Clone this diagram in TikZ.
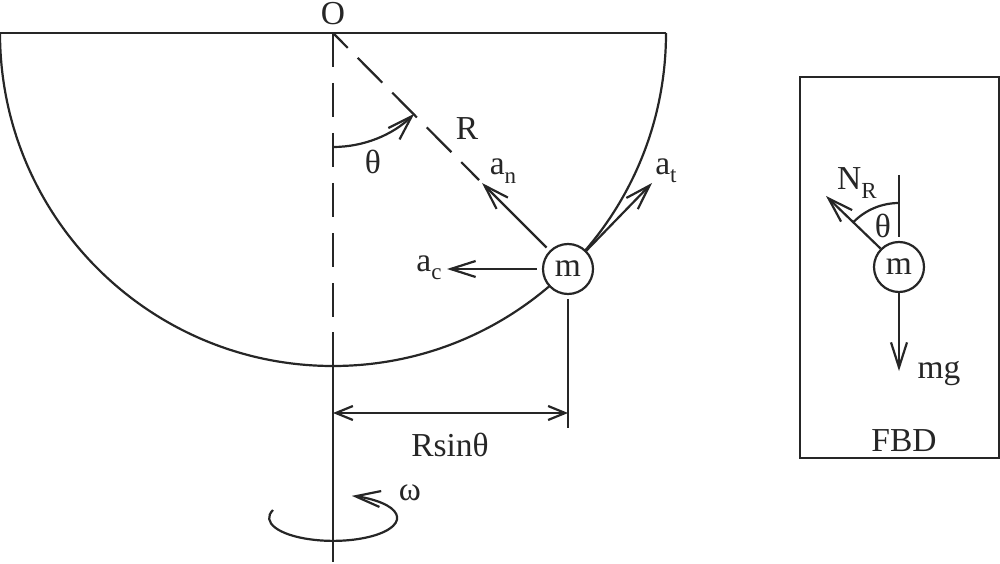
\documentclass[tikz,border=0pt]{standalone}
\usepackage{fontspec}
\setmainfont{Liberation Serif}
\usetikzlibrary{arrows.meta}

\definecolor{inkgray}{HTML}{262626}
\newcommand{\sub}[1]{\raisebox{-0.25em}{\fontsize{23}{23}\selectfont #1}}

\tikzset{
  outline/.style={
    draw=inkgray,
    line width=2.2pt,
  },
  force/.style={
    outline,
    -{Straight Barb[length=25pt,width=16pt,line width=2.2pt]},
  },
  dimline/.style={
    outline,
    {Straight Barb[length=17pt,width=14pt,line width=2.2pt]}-{Straight Barb[length=17pt,width=14pt,line width=2.2pt]},
  },
  longdash/.style={
    outline,
    dash pattern=on 34pt off 16pt,
  },
  raddash/.style={
    outline,
    dash pattern=on 35pt off 14pt,
    dash phase=14pt,
  },
  mass/.style={
    outline,
    circle,
    fill=white,
    inner sep=0pt,
    minimum size=50pt,
  },
  label/.style={
    text=inkgray,
    inner sep=0pt,
    font=\fontsize{33.5}{33.5}\selectfont,
  },
}

\begin{document}
\begin{tikzpicture}[x=1pt,y=1pt]
  \useasboundingbox (0,0) rectangle (1000,563);

  % bowl
  \coordinate (O) at (333,530);
  \coordinate (rimL) at (0,530);
  \coordinate (rimR) at (666,530);
  \draw[outline] (rimL) -- (rimR);
  \draw[outline] (rimL) arc[start angle=180,end angle=360,radius=333];
  \node[label] (Olabel) at (333,549) {O};

  % axis and radius
  \coordinate (axisA) at (333,231);
  \coordinate (axisB) at (333,1);
  \coordinate (radEnd) at (479,383);
  \draw[longdash] (O) -- (axisA);
  \draw[outline] (axisA) -- (axisB);
  \draw[raddash] (O) -- (radEnd);

  % ball
  \node[mass,label] (m) at (568,294) {m};
  \coordinate (an) at (482,380);
  \coordinate (at) at (652,380);
  \coordinate (ac) at (447,294);
  \draw[force] (m.135) ++(-3,3) -- (an);
  \draw[force] (m.45) -- (at);
  \draw[force] (m.180) ++(-5,0) -- (ac);
  \node[label] (anlabel) at (503,392) {a\sub{n}};
  \node[label] (atlabel) at (666,392) {a\sub{t}};
  \node[label] (aclabel) at (429,295) {a\sub{c}};
  \node[label] (Rlabel) at (467,434) {R};

  % angle
  \coordinate (th0) at (333,416);
  \draw[force] (th0) arc[start angle=-90,end angle=-45.5,radius=116];
  \node[label] (thlabel) at (373,401) {θ};

  % distance to axis
  \coordinate (dimT) at (568,264);
  \coordinate (dimB) at (568,135);
  \coordinate (dimR) at (568,150);
  \coordinate (dimL) at (333,150);
  \draw[outline] (dimT) -- (dimB);
  \draw[dimline] (dimL) -- (dimR);
  \node[label] (dimlabel) at (450,118) {Rsinθ};

  % rotation
  \coordinate (spin0) at (273,53);
  \draw[force] (spin0) arc[start angle=160,end angle=433,x radius=64,y radius=23];
  \node[label] (omlabel) at (410,70) {ω};

  % FBD
  \coordinate (fbdA) at (800,105);
  \coordinate (fbdB) at (999,486);
  \draw[outline] (fbdA) rectangle (fbdB);
  \node[label] (fbdlabel) at (904,122) {FBD};
  \node[mass,label] (m2) at (899,296) {m};
  \coordinate (vert) at (899,388);
  \coordinate (vertB) at (899,326);
  \coordinate (NR) at (826,367);
  \coordinate (mg) at (899,192);
  \draw[outline] (vert) -- (vertB);
  \draw[force] (m2.135) -- (NR);
  \draw[force] (m2.south) -- (mg);
  \coordinate (arc0) at (899,360);
  \draw[outline] (arc0) arc[start angle=90,end angle=135,radius=64];
  \node[label] (nrlabel) at (857,380) {N\sub{R}};
  \node[label] (th2label) at (883,337) {θ};
  \node[label] (mglabel) at (939,189) {mg};
\end{tikzpicture}
\end{document}
